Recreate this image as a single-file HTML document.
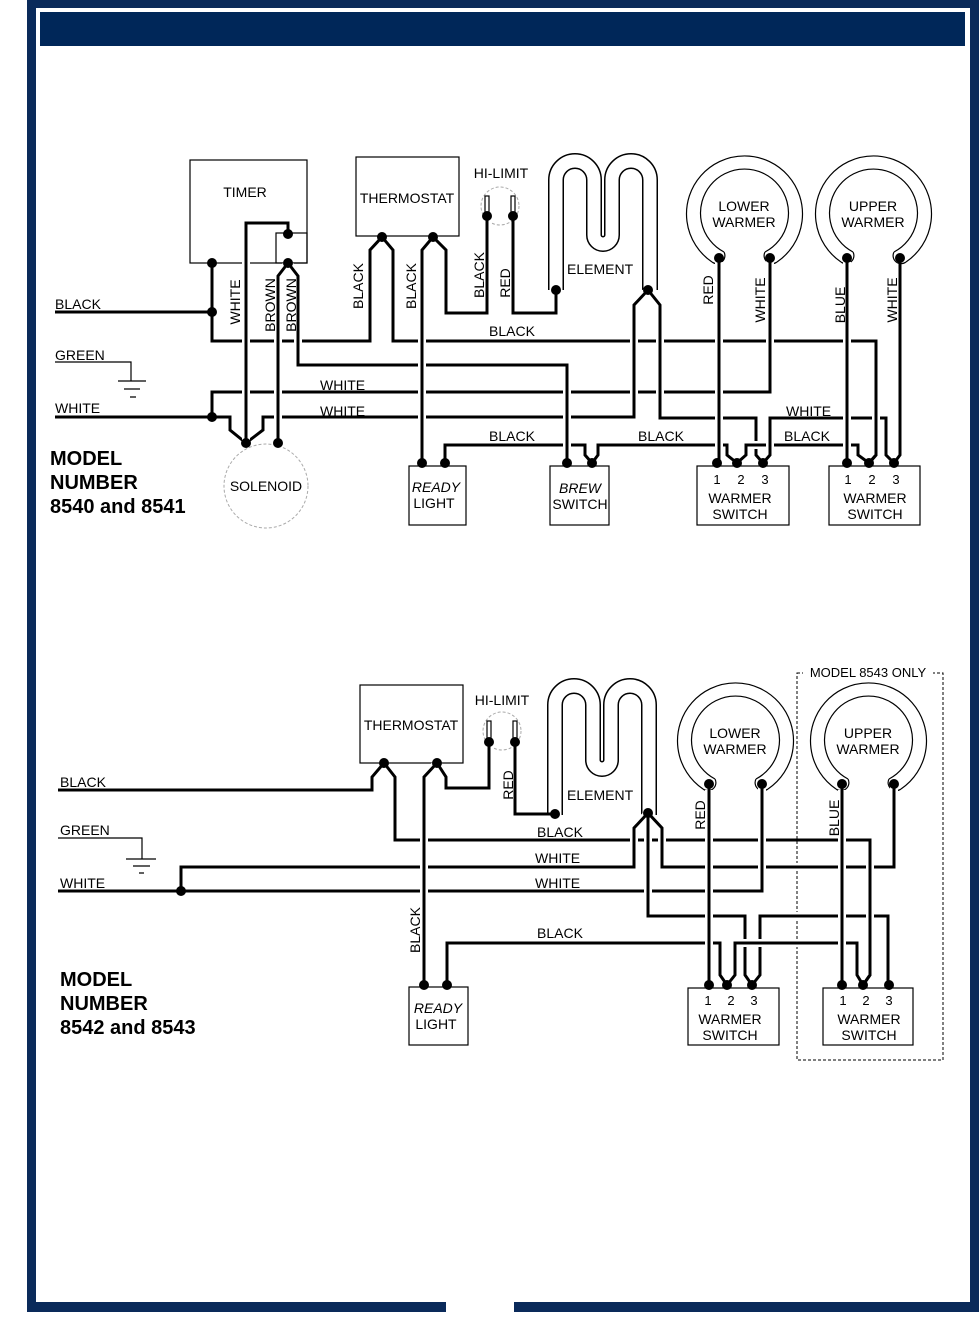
<!DOCTYPE html>
<html><head><meta charset="utf-8"><style>
html,body{margin:0;padding:0;background:#fff;}
svg{display:block;}
text{font-family:"Liberation Sans",Arial,sans-serif;fill:#000;}
</style></head><body>
<svg width="979" height="1330" viewBox="0 0 979 1330" xmlns="http://www.w3.org/2000/svg">
<!-- frame -->
<rect x="27" y="0" width="952" height="8" fill="#0a2a5a"/>
<rect x="27" y="0" width="9" height="1312" fill="#0a2a5a"/>
<rect x="970" y="0" width="9" height="1312" fill="#0a2a5a"/>
<rect x="27" y="1302" width="419" height="10" fill="#0a2a5a"/>
<rect x="514" y="1302" width="465" height="10" fill="#0a2a5a"/>
<rect x="40" y="12" width="925" height="34" fill="#002759"/>

<defs>
<style>
.h{fill:none;stroke:#fff;stroke-width:8;}
.w{fill:none;stroke:#000;stroke-width:3;}
.t{fill:none;stroke:#000;stroke-width:1.2;}
.dash{fill:none;stroke:#aaa;stroke-width:1;stroke-dasharray:3,2;}
</style>
</defs>

<!-- ============ DIAGRAM 1 ============ -->
<g>
<rect x="190" y="160" width="117" height="103" class="t"/>
<rect x="276" y="233" width="31" height="30" class="t"/>
<text x="245" y="197" font-size="14" text-anchor="middle">TIMER</text>
<rect x="356" y="157" width="103" height="79" class="t"/>
<text x="407" y="203" font-size="14" text-anchor="middle">THERMOSTAT</text>
<text x="501" y="178" font-size="14" text-anchor="middle">HI-LIMIT</text>
<circle cx="500" cy="206" r="19" class="dash"/>
<rect x="485" y="196" width="4" height="18" class="t"/>
<rect x="511" y="196" width="4" height="18" class="t"/>
<circle cx="266" cy="486" r="42" class="dash"/>
<text x="266" y="491" font-size="14" text-anchor="middle">SOLENOID</text>
<!-- element -->
<path d="M556,290 V180 A19,19 0 0 1 594,180 V235 A9,9 0 0 0 612,235 V180 A19,19 0 0 1 650,180 V290" fill="none" stroke="#000" stroke-width="16"/>
<path d="M556,292 V180 A19,19 0 0 1 594,180 V235 A9,9 0 0 0 612,235 V180 A19,19 0 0 1 650,180 V292" fill="none" stroke="#fff" stroke-width="13"/>
<text x="567" y="274" font-size="14">ELEMENT</text>
<!-- warmers -->
<path d="M712,262 A58,58 0 1 1 777,262" class="t"/>
<path d="M724,252 A44,44 0 1 1 765,252" class="t"/>
<path d="M712,262 A8,8 0 0 0 724,252 M777,262 A8,8 0 0 1 765,252" class="t"/>
<text x="744" y="211" font-size="14" text-anchor="middle">LOWER</text>
<text x="744" y="227" font-size="14" text-anchor="middle">WARMER</text>
<path d="M841,262 A58,58 0 1 1 906,262" class="t"/>
<path d="M853,252 A44,44 0 1 1 894,252" class="t"/>
<path d="M841,262 A8,8 0 0 0 853,252 M906,262 A8,8 0 0 1 894,252" class="t"/>
<text x="873" y="211" font-size="14" text-anchor="middle">UPPER</text>
<text x="873" y="227" font-size="14" text-anchor="middle">WARMER</text>
<!-- boxes -->
<rect x="409" y="466" width="57" height="59" class="t"/>
<text x="436" y="492" font-size="14" text-anchor="middle" font-style="italic">READY</text>
<text x="434" y="508" font-size="14" text-anchor="middle">LIGHT</text>
<rect x="550" y="466" width="59" height="59" class="t"/>
<text x="580" y="493" font-size="14" text-anchor="middle" font-style="italic">BREW</text>
<text x="580" y="509" font-size="14" text-anchor="middle">SWITCH</text>
<rect x="697" y="466" width="92" height="59" class="t"/>
<text x="717" y="484" font-size="13" text-anchor="middle">1</text><text x="741" y="484" font-size="13" text-anchor="middle">2</text><text x="765" y="484" font-size="13" text-anchor="middle">3</text>
<text x="740" y="503" font-size="14" text-anchor="middle">WARMER</text><text x="740" y="519" font-size="14" text-anchor="middle">SWITCH</text>
<rect x="829" y="466" width="91" height="59" class="t"/>
<text x="848" y="484" font-size="13" text-anchor="middle">1</text><text x="872" y="484" font-size="13" text-anchor="middle">2</text><text x="896" y="484" font-size="13" text-anchor="middle">3</text>
<text x="875" y="503" font-size="14" text-anchor="middle">WARMER</text><text x="875" y="519" font-size="14" text-anchor="middle">SWITCH</text>
<!-- ground -->
<path d="M55,362 H131 V381 M118,381 H146 M124,389 H140 M130,397 H136" class="t" stroke-width="2.5"/>

<!-- wires -->
<g>
<path d="M55,312 H212 M212,263 V341 H370 V250 L382,237 L393,250 V341 H876 V455 L869,463" class="w"/>
<path d="M212,417 V392 H770 V258" class="h"/><path d="M212,417 V392 H770 V258" class="w"/>
<path d="M55,417 H230 V430 L246,443 L263,430 V417 H634 V305 L648,290 L660,305 V418 H756 V455 L763,463" class="h"/>
<path d="M55,417 H230 V430 L246,443 L263,430 V417 H634 V305 L648,290 L660,305 V418 H756 V455 L763,463" class="w"/>
<path d="M445,463 V445 H585 V455 L592,463 L598,455 V445 H727 V455 L737,463 L746,455 V445 H858 V455 L869,463" class="h"/>
<path d="M445,463 V445 H585 V455 L592,463 L598,455 V445 H727 V455 L737,463 L746,455 V445 H858 V455 L869,463" class="w"/>
<path d="M763,463 L770,455 V418 H886 V455 L894,463" class="h"/><path d="M763,463 L770,455 V418 H886 V455 L894,463" class="w"/>
<path d="M900,258 V455 L894,463" class="w"/>
<path d="M876,345 V455" class="h"/><path d="M876,341 V455 L869,463" class="w"/>
<path d="M288,263 L298,276 V365 H567 V463" class="h"/><path d="M288,263 L298,276 V365 H567 V463" class="w"/>
<path d="M278,443 V276 L288,263" class="h"/><path d="M278,443 V276 L288,263" class="w"/>
<path d="M246,443 V223 H288 V234" class="h"/><path d="M246,443 V223 H288 V234" class="w"/>
<path d="M422,463 V250 L433,237 L446,250 V313 H487 V216" class="h"/><path d="M422,463 V250 L433,237 L446,250 V313 H487 V216" class="w"/>
<path d="M513,216 V313 H556 V290" class="w"/>
<path d="M634,330 V410 M660,330 V410" class="h"/><path d="M634,305 V417 M660,305 V418" class="w"/>
<path d="M719,262 V463 M847,262 V463" class="h"/><path d="M719,258 V463 M847,258 V463" class="w"/>
</g>
<g fill="#000">
<circle cx="212" cy="263" r="5"/><circle cx="288" cy="234" r="5"/><circle cx="288" cy="263" r="5"/>
<circle cx="212" cy="312" r="5"/><circle cx="212" cy="417" r="5"/>
<circle cx="246" cy="443" r="5"/><circle cx="278" cy="443" r="5"/>
<circle cx="382" cy="237" r="5"/><circle cx="433" cy="237" r="5"/>
<circle cx="487" cy="216" r="5"/><circle cx="513" cy="216" r="5"/>
<circle cx="556" cy="290" r="5"/><circle cx="648" cy="290" r="5"/>
<circle cx="719" cy="258" r="5"/><circle cx="770" cy="258" r="5"/>
<circle cx="847" cy="258" r="5"/><circle cx="900" cy="258" r="5"/>
<circle cx="422" cy="463" r="5"/><circle cx="445" cy="463" r="5"/>
<circle cx="567" cy="463" r="5"/><circle cx="592" cy="463" r="5"/>
<circle cx="717" cy="463" r="5"/><circle cx="737" cy="463" r="5"/><circle cx="763" cy="463" r="5"/>
<circle cx="847" cy="463" r="5"/><circle cx="869" cy="463" r="5"/><circle cx="894" cy="463" r="5"/>
</g>
<!-- labels -->
<g font-size="14">
<text x="55" y="309">BLACK</text>
<text x="55" y="360">GREEN</text>
<text x="55" y="413">WHITE</text>
<text x="489" y="336">BLACK</text>
<text x="320" y="390">WHITE</text>
<text x="320" y="416">WHITE</text>
<text x="489" y="441">BLACK</text>
<text x="638" y="441">BLACK</text>
<text x="786" y="416">WHITE</text>
<text x="784" y="441">BLACK</text>
<text transform="translate(240,302) rotate(-90)" text-anchor="middle">WHITE</text>
<text transform="translate(275,305) rotate(-90)" text-anchor="middle">BROWN</text>
<text transform="translate(296,305) rotate(-90)" text-anchor="middle">BROWN</text>
<text transform="translate(363,286) rotate(-90)" text-anchor="middle">BLACK</text>
<text transform="translate(416,286) rotate(-90)" text-anchor="middle">BLACK</text>
<text transform="translate(484,275) rotate(-90)" text-anchor="middle">BLACK</text>
<text transform="translate(510,283) rotate(-90)" text-anchor="middle">RED</text>
<text transform="translate(713,290) rotate(-90)" text-anchor="middle">RED</text>
<text transform="translate(765,300) rotate(-90)" text-anchor="middle">WHITE</text>
<text transform="translate(845,305) rotate(-90)" text-anchor="middle">BLUE</text>
<text transform="translate(897,300) rotate(-90)" text-anchor="middle">WHITE</text>
</g>
<g font-size="20" font-weight="bold">
<text x="50" y="465">MODEL</text>
<text x="50" y="489">NUMBER</text>
<text x="50" y="513">8540 and 8541</text>
</g>
</g>

<!-- ============ DIAGRAM 2 ============ -->
<g>
<rect x="360" y="685" width="103" height="78" class="t"/>
<text x="411" y="730" font-size="14" text-anchor="middle">THERMOSTAT</text>
<text x="502" y="705" font-size="14" text-anchor="middle">HI-LIMIT</text>
<circle cx="502" cy="731" r="19" class="dash"/>
<rect x="487" y="721" width="4" height="18" class="t"/>
<rect x="513" y="721" width="4" height="18" class="t"/>
<g transform="translate(-1,525)">
<path d="M556,290 V180 A19,19 0 0 1 594,180 V235 A9,9 0 0 0 612,235 V180 A19,19 0 0 1 650,180 V290" fill="none" stroke="#000" stroke-width="16"/>
<path d="M556,292 V180 A19,19 0 0 1 594,180 V235 A9,9 0 0 0 612,235 V180 A19,19 0 0 1 650,180 V292" fill="none" stroke="#fff" stroke-width="13"/>
</g>
<text x="567" y="800" font-size="14">ELEMENT</text>
<path d="M703,789 A58,58 0 1 1 768,789" class="t"/>
<path d="M715,779 A44,44 0 1 1 756,779" class="t"/>
<path d="M703,789 A8,8 0 0 0 715,779 M768,789 A8,8 0 0 1 756,779" class="t"/>
<text x="735" y="738" font-size="14" text-anchor="middle">LOWER</text>
<text x="735" y="754" font-size="14" text-anchor="middle">WARMER</text>
<path d="M836,789 A58,58 0 1 1 901,789" class="t"/>
<path d="M848,779 A44,44 0 1 1 889,779" class="t"/>
<path d="M836,789 A8,8 0 0 0 848,779 M901,789 A8,8 0 0 1 889,779" class="t"/>
<text x="868" y="738" font-size="14" text-anchor="middle">UPPER</text>
<text x="868" y="754" font-size="14" text-anchor="middle">WARMER</text>
<rect x="797" y="673" width="146" height="387" fill="none" stroke="#000" stroke-width="1" stroke-dasharray="3,2"/>
<rect x="803" y="665" width="130" height="15" fill="#fff"/>
<text x="868" y="677" font-size="13" text-anchor="middle">MODEL 8543 ONLY</text>
<rect x="409" y="987" width="59" height="58" class="t"/>
<text x="438" y="1013" font-size="14" text-anchor="middle" font-style="italic">READY</text>
<text x="436" y="1029" font-size="14" text-anchor="middle">LIGHT</text>
<rect x="688" y="988" width="91" height="57" class="t"/>
<text x="708" y="1005" font-size="13" text-anchor="middle">1</text><text x="731" y="1005" font-size="13" text-anchor="middle">2</text><text x="754" y="1005" font-size="13" text-anchor="middle">3</text>
<text x="730" y="1024" font-size="14" text-anchor="middle">WARMER</text><text x="730" y="1040" font-size="14" text-anchor="middle">SWITCH</text>
<rect x="823" y="988" width="90" height="57" class="t"/>
<text x="843" y="1005" font-size="13" text-anchor="middle">1</text><text x="866" y="1005" font-size="13" text-anchor="middle">2</text><text x="889" y="1005" font-size="13" text-anchor="middle">3</text>
<text x="869" y="1024" font-size="14" text-anchor="middle">WARMER</text><text x="869" y="1040" font-size="14" text-anchor="middle">SWITCH</text>
<path d="M58,838 H142 V859 M126,859 H156 M133,866 H150 M139,873 H144" class="t" stroke-width="2.5"/>

<g>
<path d="M58,790 H372 V777 L384,763 L395,777 V840 H870 V975 L863,985" class="w"/>
<path d="M181,891 V867 H634 V828 L648,813 L662,828 V867 H894 V784" class="h"/>
<path d="M181,891 V867 H634 V828 L648,813 L662,828 V867 H894 V784" class="w"/>
<path d="M58,891 H762 V784" class="h"/><path d="M58,891 H762 V784" class="w"/>
<path d="M648,820 V916 H745 V975 L752,985 M760,975 V916 H888 V985" class="h"/>
<path d="M648,813 V916 H745 V975 L752,985 L760,975 V916 H888 V985" class="w"/>
<path d="M447,985 V943 H720 V975 L727,985 L735,975 V943 H857 V975 L863,985" class="h"/>
<path d="M447,985 V943 H720 V975 L727,985 L735,975 V943 H857 V975 L863,985" class="w"/>
<path d="M870,845 V975" class="h"/><path d="M870,840 V975 L863,985" class="w"/>
<path d="M424,985 V777 L437,763 L446,777 V788 H489 V742" class="h"/><path d="M424,985 V777 L437,763 L446,777 V788 H489 V742" class="w"/>
<path d="M515,742 V814 H555" class="w"/>
<path d="M709,790 V985 M842,790 V985" class="h"/><path d="M709,784 V985 M842,784 V985" class="w"/>
</g>
<g fill="#000">
<circle cx="384" cy="763" r="5"/><circle cx="437" cy="763" r="5"/>
<circle cx="489" cy="742" r="5"/><circle cx="515" cy="742" r="5"/>
<circle cx="555" cy="814" r="5"/><circle cx="648" cy="813" r="5"/>
<circle cx="181" cy="891" r="5"/>
<circle cx="709" cy="784" r="5"/><circle cx="762" cy="784" r="5"/>
<circle cx="842" cy="784" r="5"/><circle cx="894" cy="784" r="5"/>
<circle cx="424" cy="985" r="5"/><circle cx="447" cy="985" r="5"/>
<circle cx="709" cy="985" r="5"/><circle cx="727" cy="985" r="5"/><circle cx="752" cy="985" r="5"/>
<circle cx="842" cy="985" r="5"/><circle cx="863" cy="985" r="5"/><circle cx="889" cy="985" r="5"/>
</g>
<g font-size="14">
<text x="60" y="787">BLACK</text>
<text x="60" y="835">GREEN</text>
<text x="60" y="888">WHITE</text>
<text x="537" y="837">BLACK</text>
<text x="535" y="863">WHITE</text>
<text x="535" y="888">WHITE</text>
<text x="537" y="938">BLACK</text>
<text transform="translate(420,930) rotate(-90)" text-anchor="middle">BLACK</text>
<text transform="translate(513,785) rotate(-90)" text-anchor="middle">RED</text>
<text transform="translate(705,815) rotate(-90)" text-anchor="middle">RED</text>
<text transform="translate(839,818) rotate(-90)" text-anchor="middle">BLUE</text>
</g>
<g font-size="20" font-weight="bold">
<text x="60" y="986">MODEL</text>
<text x="60" y="1010">NUMBER</text>
<text x="60" y="1034">8542 and 8543</text>
</g>
</g>
</svg>
</body></html>
